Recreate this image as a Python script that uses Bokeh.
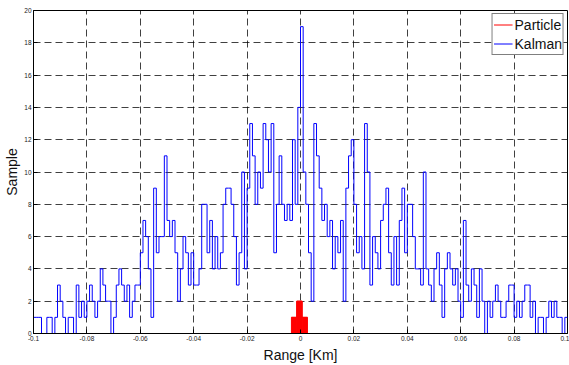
import numpy as np
from bokeh.plotting import figure
from bokeh.models import Range1d, FixedTicker, Legend, LegendItem
from bokeh.embed import file_html
from bokeh.resources import INLINE

# ---- data ----
kalman_bin_start = -0.1
kalman_bin_width = 0.001
kalman_counts = [
    1, 1, 1, 0, 0, 1, 1, 0, 1, 3,
    2, 1, 0, 1, 1, 0, 3, 1, 2, 1,
    2, 3, 2, 1, 2, 4, 3, 2, 2, 0,
    1, 3, 4, 3, 2, 3, 1, 2, 3, 3,
    5, 7, 6, 4, 1, 9, 5, 6, 6, 11,
    7, 6, 7, 5, 2, 4, 6, 5, 3, 5,
    3, 3, 4, 8, 8, 5, 7, 4, 6, 4,
    5, 8, 9, 9, 8, 6, 3, 5, 10, 4,
    9, 13, 11, 8, 10, 9, 13, 12, 10, 13,
    5, 8, 11, 8, 7, 8, 7, 12, 8, 14,
    19, 10, 8, 5, 2, 13, 11, 9, 7, 8,
    6, 7, 4, 6, 5, 7, 2, 9, 11, 12,
    8, 5, 6, 4, 13, 10, 3, 6, 5, 4,
    7, 8, 9, 5, 3, 6, 3, 7, 9, 5,
    8, 8, 6, 4, 4, 3, 10, 4, 3, 2,
    4, 5, 3, 1, 4, 5, 4, 3, 4, 2,
    1, 7, 3, 2, 4, 3, 1, 4, 2, 0,
    2, 1, 2, 3, 2, 1, 1, 2, 3, 3,
    1, 2, 1, 2, 3, 3, 1, 2, 0, 1,
    1, 0, 1, 2, 1, 2, 1, 1, 0, 1,
]
particle_edges = [-0.0034, -0.0014, 0.0006, 0.0026]
particle_counts = [1, 2, 1]

x_ticks = [-0.1, -0.08, -0.06, -0.04, -0.02, 0, 0.02, 0.04, 0.06, 0.08, 0.1]
x_tick_labels = ["-0.1", "-0.08", "-0.06", "-0.04", "-0.02", "0", "0.02", "0.04", "0.06", "0.08", "0.1"]
y_ticks = [0, 2, 4, 6, 8, 10, 12, 14, 16, 18, 20]
y_tick_labels = ["0", "2", "4", "6", "8", "10", "12", "14", "16", "18", "20"]

FONT = "Liberation Sans"

p = figure(width=569, height=365, output_backend="svg", toolbar_location=None,
           x_range=Range1d(-0.1, 0.1), y_range=Range1d(0, 20),
           min_border_left=33, min_border_right=2, min_border_top=10, min_border_bottom=30)
p.background_fill_color = "white"
p.border_fill_color = "white"
p.outline_line_color = "black"
p.outline_line_width = 1
p.outline_line_alpha = 1

# Kalman stairs
k_edges = kalman_bin_start + kalman_bin_width * np.arange(len(kalman_counts) + 1)
k_vals = list(kalman_counts) + [kalman_counts[-1]]
kal = p.step(x=k_edges, y=k_vals, mode="after", line_color="#0000ff", line_width=1)

# Particle histogram (filled red)
p.quad(left=particle_edges[:-1], right=particle_edges[1:], top=particle_counts, bottom=0,
       fill_color="#ff0000", line_color="#ff0000")
pe = list(particle_edges)
pv = list(particle_counts) + [particle_counts[-1]]
par = p.step(x=pe, y=pv, mode="after", line_color="#ff0000", line_width=1)

# axes
for ax, ticks, labels in ((p.xaxis[0], x_ticks, x_tick_labels), (p.yaxis[0], y_ticks, y_tick_labels)):
    ax.ticker = FixedTicker(ticks=ticks)
    ax.major_label_overrides = {t: l for t, l in zip(ticks, labels)}
    ax.minor_tick_line_color = None
    ax.major_tick_in = 4
    ax.major_tick_out = 0
    ax.axis_line_color = "black"
    ax.major_tick_line_color = "black"
    ax.major_label_text_font = FONT
    ax.major_label_text_font_size = "6.5px"
    ax.major_label_text_color = "#222222"
    ax.major_label_standoff = 2
    ax.axis_label_text_font = FONT
    ax.axis_label_text_font_size = "14px"
    ax.axis_label_text_font_style = "normal"
    ax.axis_label_text_color = "#111111"

p.xaxis.axis_label = "Range [Km]"
p.yaxis.axis_label = "Sample"
p.xaxis.axis_label_standoff = 3
p.yaxis.axis_label_standoff = 1

for g, ticks in ((p.xgrid[0], x_ticks), (p.ygrid[0], y_ticks)):
    g.ticker = FixedTicker(ticks=ticks)
    g.grid_line_color = "black"
    g.grid_line_alpha = 0.75
    g.grid_line_dash = "7 4"
    g.grid_line_width = 1

legend = Legend(items=[LegendItem(label="Particle", renderers=[par]),
                       LegendItem(label="Kalman", renderers=[kal])],
                location="top_right")
legend.label_text_font = FONT
legend.label_text_font_size = "14px"
legend.label_text_color = "#111111"
legend.label_height = 19
legend.glyph_height = 19
legend.glyph_width = 19
legend.label_standoff = 2
legend.spacing = 0
legend.padding = 1
legend.margin = 3
legend.border_line_color = "black"
legend.border_line_width = 1
legend.background_fill_color = "white"
legend.background_fill_alpha = 1
p.add_layout(legend, "center")

open("out.html", "w").write(file_html(p, INLINE))
